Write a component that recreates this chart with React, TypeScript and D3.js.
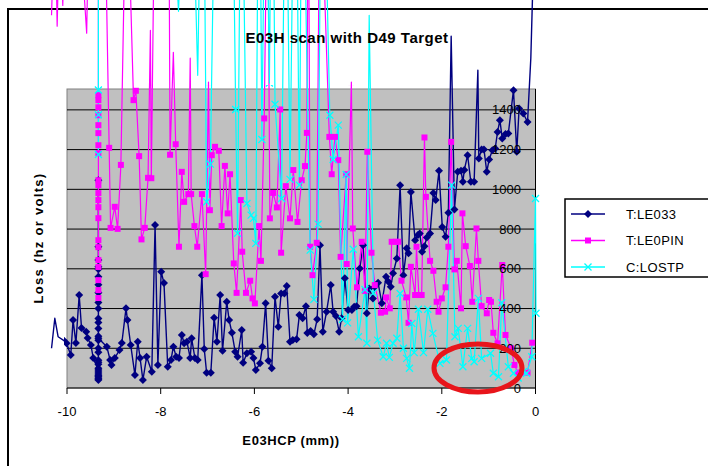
import React from "react";
import * as d3 from "d3";

const WIDTH = 708;
const HEIGHT = 466;

type Pt = [number, number];

// Scan position (mm) vs. loss reading for each monitor, in acquisition order.
const le033: Pt[] = [
  [-10.33, 200], [-10.26, 351], [-10.19, 258], [-10.08, 241], [-10.01, 225], [-9.92, 166], [-9.87, 342],
  [-9.81, 226], [-9.74, 468], [-9.69, 302], [-9.59, 283], [-9.56, 252], [-9.49, 217], [-9.44, 151],
  [-9.33, 90], [-9.33, 300], [-9.33, 60], [-9.33, 520], [-9.33, 140], [-9.33, 45], [-9.33, 1046], [-9.33, 240],
  [-9.33, 80], [-9.33, 711], [-9.33, 120], [-9.33, 644], [-9.33, 40], [-9.33, 598], [-9.33, 180], [-9.33, 430],
  [-9.33, 70], [-9.33, 560], [-9.33, 260], [-9.33, 100], [-9.33, 480], [-9.33, 350], [-9.33, 50], [-9.33, 610],
  [-9.33, 200], [-9.33, 400], [-9.33, 130], [-9.33, 330], [-9.33, 60], [-9.33, 250],
  [-9.15, 208], [-9.08, 141], [-9.05, 116], [-8.98, 151], [-8.88, 191], [-8.83, 226], [-8.74, 402], [-8.71, 342],
  [-8.64, 216], [-8.55, 65], [-8.49, 233], [-8.44, 151], [-8.38, 40], [-8.3, 157], [-8.19, 82], [-8.12, 820],
  [-8.06, 116], [-7.99, 585], [-7.93, 528], [-7.85, 107], [-7.78, 141], [-7.73, 208], [-7.67, 157], [-7.61, 151],
  [-7.55, 267], [-7.5, 225], [-7.44, 233], [-7.37, 151], [-7.34, 250], [-7.27, 151], [-7.21, 141], [-7.12, 568],
  [-7.07, 196], [-7.02, 77], [-6.93, 77], [-6.86, 354], [-6.8, 233], [-6.73, 468], [-6.68, 188], [-6.59, 434],
  [-6.54, 342], [-6.48, 278], [-6.41, 183], [-6.36, 157], [-6.27, 292], [-6.24, 127], [-6.16, 175], [-6.07, 183],
  [-6.02, 151], [-5.97, 91], [-5.88, 124], [-5.83, 208], [-5.76, 426], [-5.7, 137], [-5.63, 99], [-5.56, 459],
  [-5.49, 308], [-5.43, 476], [-5.36, 476], [-5.31, 513], [-5.24, 233], [-5.18, 241], [-5.1, 245], [-5.04, 367],
  [-4.97, 351], [-4.9, 412], [-4.87, 277], [-4.8, 287], [-4.73, 270], [-4.66, 346], [-4.6, 719], [-4.54, 283],
  [-4.46, 384], [-4.37, 518], [-4.32, 384], [-4.26, 362], [-4.19, 283], [-4.14, 351], [-4.07, 552], [-4.0, 392],
  [-3.92, 392], [-3.87, 409], [-3.82, 412], [-3.75, 602], [-3.68, 719], [-3.6, 376], [-3.55, 501], [-3.47, 451],
  [-3.43, 510], [-3.36, 530], [-3.28, 426], [-3.19, 560], [-3.14, 535], [-3.09, 510], [-3.04, 577], [-2.96, 652],
  [-2.89, 1021], [-2.82, 568], [-2.75, 703], [-2.71, 678], [-2.66, 987], [-2.57, 744], [-2.51, 770], [-2.47, 778],
  [-2.42, 686], [-2.37, 714], [-2.32, 758], [-2.25, 778], [-2.18, 982], [-2.13, 946], [-2.06, 1093], [-1.99, 811],
  [-1.92, 761], [-1.86, 882], [-1.8, 1771], [-1.73, 899], [-1.66, 1088], [-1.59, 1093], [-1.55, 1038], [-1.52, 1097],
  [-1.45, 1172], [-1.38, 1038], [-1.31, 1038], [-1.23, 1600], [-1.21, 1155], [-1.15, 1201], [-1.1, 1201], [-1.04, 1088],
  [-0.99, 1150], [-0.92, 1197], [-0.86, 1206], [-0.81, 1289], [-0.76, 1348], [-0.71, 1256], [-0.64, 1278], [-0.58, 1281],
  [-0.47, 1499], [-0.4, 1189], [-0.35, 1407], [-0.26, 1382], [-0.17, 1339], [-0.1, 1660], [0.01, 2600],
];

const le0pin: Pt[] = [
  [-10.33, 1876], [-10.26, 2450], [-10.21, 1821], [-10.15, 2450], [-10.09, 1926], [-10.02, 2700], [-9.83, 2700],
  [-9.58, 1786], [-9.51, 2700],
  [-9.33, 2600], [-9.33, 1474], [-9.33, 1449], [-9.33, 1413], [-9.33, 1373], [-9.33, 2500], [-9.33, 1323],
  [-9.33, 1283], [-9.33, 1222], [-9.33, 1182], [-9.33, 1046], [-9.33, 1021], [-9.33, 981], [-9.33, 946],
  [-9.33, 910], [-9.33, 855], [-9.33, 744], [-9.33, 709], [-9.33, 644], [-9.33, 609], [-9.33, 543], [-9.33, 493],
  [-9.33, 453], [-9.33, 2600],
  [-9.21, 2700], [-9.1, 1209], [-9.07, 806], [-8.98, 912], [-8.92, 801], [-8.85, 1123], [-8.73, 2700], [-8.58, 1449],
  [-8.53, 1496], [-8.46, 1167], [-8.41, 748], [-8.34, 806], [-8.27, 1058], [-8.22, 1800], [-8.2, 1056], [-8.12, 2700],
  [-7.83, 2700], [-7.8, 1174], [-7.73, 1690], [-7.68, 1227], [-7.61, 711], [-7.55, 1088], [-7.5, 937], [-7.41, 976],
  [-7.37, 1660], [-7.35, 976], [-7.28, 815], [-7.22, 711], [-7.12, 976], [-7.04, 573], [-6.98, 1540], [-6.95, 895],
  [-6.91, 1172], [-6.84, 1214], [-6.76, 1194], [-6.7, 815], [-6.63, 1118], [-6.57, 879], [-6.52, 1076], [-6.44, 627],
  [-6.38, 479], [-6.29, 946], [-6.26, 686], [-6.18, 479], [-6.09, 540], [-6.04, 451], [-5.99, 426], [-5.9, 815],
  [-5.86, 640], [-5.79, 1357], [-5.72, 2700], [-5.67, 854], [-5.6, 982], [-5.52, 909], [-5.45, 1402], [-5.43, 681],
  [-5.33, 1016], [-5.24, 854], [-5.17, 1097], [-5.08, 836], [-4.99, 1046], [-4.92, 1117], [-4.88, 1284], [-4.85, 2700],
  [-4.81, 711], [-4.76, 568], [-4.67, 731], [-4.6, 2700], [-4.4, 1264], [-4.35, 1076], [-4.28, 1264], [-4.21, 1147],
  [-4.16, 660], [-4.04, 1076], [-4.03, 624], [-3.93, 1540], [-3.9, 803], [-3.81, 507], [-3.71, 736], [-3.64, 489],
  [-3.59, 1189], [-3.5, 681], [-3.43, 518], [-3.3, 379], [-3.21, 384], [-3.19, 456], [-3.11, 401], [-3.07, 736],
  [-2.98, 736], [-2.93, 736], [-2.86, 540], [-2.76, 456], [-2.71, 328], [-2.66, 610], [-2.57, 468], [-2.54, 711],
  [-2.49, 468], [-2.43, 468], [-2.37, 1261], [-2.34, 962], [-2.25, 640], [-2.18, 590], [-2.11, 434], [-2.07, 384],
  [-2.0, 451], [-1.92, 507], [-1.86, 711], [-1.8, 1239], [-1.73, 597], [-1.68, 640], [-1.59, 401], [-1.56, 879],
  [-1.49, 714], [-1.4, 614], [-1.35, 434], [-1.26, 803], [-1.22, 640], [-1.15, 412], [-1.04, 376], [-0.99, 443],
  [-0.95, 434], [-0.9, 278], [-0.81, 225], [-0.71, 619], [-0.64, 267], [-0.52, 200], [-0.45, 116], [-0.37, 77],
  [-0.31, 77], [-0.17, 77], [-0.07, 228],
];

const lostp: Pt[] = [
  [-10.33, 3200], [-9.9, 3600], [-9.45, 3000],
  [-9.33, 3400], [-9.33, 1500], [-9.33, 3100], [-9.33, 1375], [-9.33, 2900], [-9.33, 1175], [-9.33, 3300],
  [-9.2, 3500], [-8.6, 3400], [-8.0, 3600], [-7.62, 1896], [-7.4, 3300], [-7.21, 1574], [-7.1, 3200], [-7.02, 937],
  [-6.94, 1127], [-6.8, 3300], [-6.5, 3300], [-6.4, 1402], [-6.36, 779], [-6.28, 3000], [-6.16, 929], [-6.07, 870],
  [-6.02, 854], [-5.97, 728], [-5.9, 3200], [-5.84, 1251], [-5.76, 3000], [-5.68, 1535], [-5.62, 3100], [-5.56, 1428],
  [-5.42, 954], [-5.33, 3000], [-5.24, 1050], [-5.13, 3300], [-5.04, 1021], [-4.98, 3000], [-4.81, 694], [-4.73, 446],
  [-4.64, 825], [-4.56, 3200], [-4.39, 1373], [-4.32, 1150], [-4.21, 1323], [-4.12, 346], [-4.04, 1075], [-4.01, 328],
  [-3.89, 698], [-3.78, 258], [-3.64, 496], [-3.6, 225], [-3.55, 1876], [-3.46, 479], [-3.37, 241], [-3.25, 157],
  [-3.18, 225], [-3.12, 154], [-3.04, 225], [-2.96, 250], [-2.89, 476], [-2.82, 200], [-2.75, 149], [-2.69, 99],
  [-2.64, 325], [-2.59, 178], [-2.5, 396], [-2.39, 178], [-2.3, 396], [-2.19, 275], [-2.04, 124], [-1.9, 141],
  [-1.79, 1021], [-1.72, 258], [-1.65, 300], [-1.55, 107], [-1.45, 300], [-1.36, 149], [-1.31, 132], [-1.22, 451],
  [-1.15, 149], [-0.96, 175], [-0.9, 74], [-0.79, 57], [-0.72, 429], [-0.58, 107], [-0.47, 74], [-0.37, 50],
  [-0.26, 82], [-0.19, 74], [-0.08, 157], [0.0, 954], [0.01, 376],
];

const xTicks = [-10, -8, -6, -4, -2, 0];
const yTicks = [0, 200, 400, 600, 800, 1000, 1200, 1400];
const seriesLabels = ["T:LE033", "T:LE0PIN", "C:LOSTP"];
const chartTitle = "E03H scan with D49 Target";
const xTitle = "E03HCP (mm))";
const yTitle = "Loss (hz or volts)";

const FONT = "'Liberation Sans', Arial, Helvetica, sans-serif";

type MarkerKind = "diamond" | "square" | "cross";

function Marker({ kind, cx, cy, color }: { kind: MarkerKind; cx: number; cy: number; color: string }) {
  if (kind === "diamond") {
    const r = 4;
    return <path d={`M${cx},${cy - r}L${cx + r},${cy}L${cx},${cy + r}L${cx - r},${cy}Z`} fill={color} />;
  }
  if (kind === "square") {
    const s = 6;
    return <rect x={cx - s / 2} y={cy - s / 2} width={s} height={s} fill={color} />;
  }
  const r = 3.5;
  return (
    <path
      d={`M${cx - r},${cy - r}L${cx + r},${cy + r}M${cx - r},${cy + r}L${cx + r},${cy - r}`}
      stroke={color}
      strokeWidth={1.3}
      fill="none"
    />
  );
}

export default function App() {
  const plot = { left: 67, right: 535.5, top: 90, bottom: 388 };
  const x = d3.scaleLinear().domain([-10, 0]).range([plot.left, plot.right]);
  const y = d3.scaleLinear().domain([0, 1500]).range([plot.bottom, plot.top]);
  const line = d3
    .line<Pt>()
    .x((d) => x(d[0]))
    .y((d) => y(d[1]));

  const series: { name: string; data: Pt[]; color: string; marker: MarkerKind; width: number }[] = [
    { name: seriesLabels[0], data: le033, color: "#000080", marker: "diamond", width: 1.4 },
    { name: seriesLabels[1], data: le0pin, color: "#ff00ff", marker: "square", width: 1.2 },
    { name: seriesLabels[2], data: lostp, color: "#00ffff", marker: "cross", width: 1.2 },
  ];

  const legend = { x: 565, y: 199, w: 150, h: 78 };
  const legendRows = [214, 240.5, 267];

  return (
    <svg
      width={WIDTH}
      height={HEIGHT}
      viewBox={`0 0 ${WIDTH} ${HEIGHT}`}
      style={{ position: "absolute", left: 0, top: 0, background: "#fff" }}
      fontFamily={FONT}
    >
      <defs>
        <clipPath id="marker-clip">
          <rect x={plot.left - 3} y={plot.top - 5} width={plot.right - plot.left + 8} height={plot.bottom - plot.top + 10} />
        </clipPath>
      </defs>

      {/* chart area frame */}
      <rect x={8} y={9} width={760} height={520} fill="#fff" stroke="#000" strokeWidth={2} />

      {/* plot area */}
      <rect
        x={plot.left}
        y={plot.top - 1}
        width={plot.right - plot.left}
        height={plot.bottom - plot.top + 1}
        fill="#c0c0c0"
        stroke="#808080"
        strokeWidth={1}
      />

      {/* horizontal gridlines */}
      {yTicks.slice(1).map((t) => (
        <line key={t} x1={plot.left} x2={plot.right} y1={y(t)} y2={y(t)} stroke="#000" strokeWidth={1} />
      ))}

      {/* category axis */}
      <line x1={plot.left} x2={plot.right} y1={y(0)} y2={y(0)} stroke="#000" strokeWidth={1} />
      {xTicks.map((t) => (
        <g key={t}>
          <line x1={x(t)} x2={x(t)} y1={y(0)} y2={y(0) + 6} stroke="#000" strokeWidth={1} />
          <text x={x(t)} y={416} textAnchor="middle" fontSize={13} fill="#000">
            {t}
          </text>
        </g>
      ))}

      {/* value axis */}
      <line x1={x(0)} x2={x(0)} y1={plot.top - 1} y2={plot.bottom} stroke="#000" strokeWidth={1} />

      {/* series lines (allowed to run past the plot area) */}
      {series.map((s) => (
        <path key={s.name} d={line(s.data) ?? ""} fill="none" stroke={s.color} strokeWidth={s.width} strokeLinejoin="round" />
      ))}

      {/* series markers */}
      <g clipPath="url(#marker-clip)">
        {series.map((s) =>
          s.data.map((d, i) => <Marker key={`${s.name}-${i}`} kind={s.marker} cx={x(d[0])} cy={y(d[1])} color={s.color} />)
        )}
      </g>

      {/* value labels drawn over the data */}
      {yTicks.map((t) => (
        <text key={t} x={521} y={y(t)} dy="0.35em" textAnchor="end" fontSize={13} fill="#000">
          {t}
        </text>
      ))}

      {/* titles */}
      <text x={347} y={43} textAnchor="middle" fontSize={15} fontWeight="bold" letterSpacing={0.5} fill="#000">
        {chartTitle}
      </text>
      <text x={291} y={445} textAnchor="middle" fontSize={13} fontWeight="bold" letterSpacing={0.6} fill="#000">
        {xTitle}
      </text>
      <text
        transform={`translate(43, 238) rotate(-90)`}
        textAnchor="middle"
        fontSize={13}
        fontWeight="bold"
        letterSpacing={1.3}
        fill="#000"
      >
        {yTitle}
      </text>

      {/* legend */}
      <rect x={legend.x} y={legend.y} width={legend.w} height={legend.h} fill="#fff" stroke="#000" strokeWidth={1.5} />
      {series.map((s, i) => (
        <g key={s.name}>
          <line x1={571} x2={605} y1={legendRows[i]} y2={legendRows[i]} stroke={s.color} strokeWidth={1.3} />
          <Marker kind={s.marker} cx={588} cy={legendRows[i]} color={s.color} />
          <text x={626} y={legendRows[i]} dy="0.35em" fontSize={13} letterSpacing={0.4} fill="#000">
            {s.name}
          </text>
        </g>
      ))}

      {/* highlight ring */}
      <ellipse cx={478} cy={368} rx={44} ry={24} fill="none" stroke="#e8151b" strokeWidth={5} />
    </svg>
  );
}
